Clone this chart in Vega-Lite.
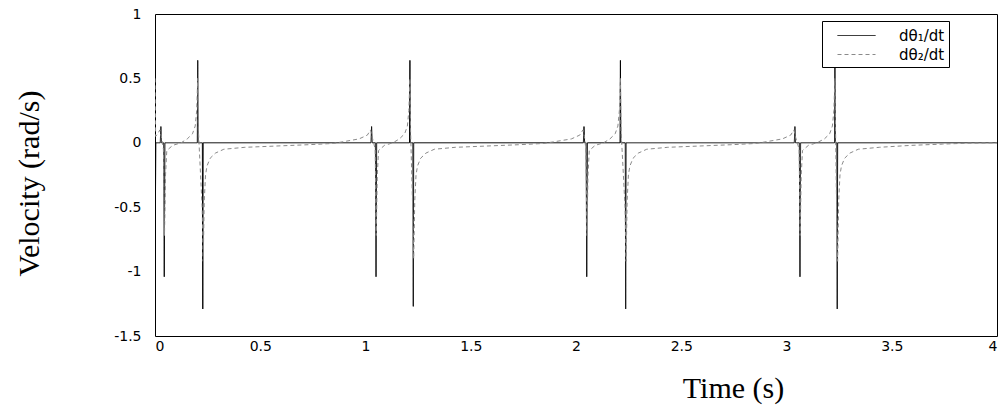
{
  "$schema": "https://vega.github.io/schema/vega-lite/v6.json",
  "width": 842,
  "height": 322,
  "padding": {"left": 155, "top": 14, "right": 6, "bottom": 72},
  "autosize": {"type": "none"},
  "background": "white",
  "config": {
    "view": {"stroke": "black", "strokeWidth": 1},
    "axis": {"grid": false, "ticks": false, "domain": false, "labelFont": "DejaVu Sans", "labelFontSize": 14, "labelColor": "black", "titleFont": "Liberation Serif", "titleFontSize": 30, "titleFontWeight": "normal", "titleColor": "black"}
  },
  "data": {"values": [
    {"t": 0.0, "v": -0.95, "s": "dθ₁/dt"},
    {"t": 0.004, "v": 0, "s": "dθ₁/dt"},
    {"t": 0.025, "v": 0, "s": "dθ₁/dt"},
    {"t": 0.028, "v": 0.126, "s": "dθ₁/dt"},
    {"t": 0.031, "v": 0, "s": "dθ₁/dt"},
    {"t": 0.041, "v": 0, "s": "dθ₁/dt"},
    {"t": 0.044, "v": -1.04, "s": "dθ₁/dt"},
    {"t": 0.047, "v": 0, "s": "dθ₁/dt"},
    {"t": 0.201, "v": 0, "s": "dθ₁/dt"},
    {"t": 0.203, "v": 0.64, "s": "dθ₁/dt"},
    {"t": 0.205, "v": 0, "s": "dθ₁/dt"},
    {"t": 0.225, "v": 0, "s": "dθ₁/dt"},
    {"t": 0.227, "v": -1.29, "s": "dθ₁/dt"},
    {"t": 0.229, "v": 0, "s": "dθ₁/dt"},
    {"t": 1.026, "v": 0, "s": "dθ₁/dt"},
    {"t": 1.029, "v": 0.126, "s": "dθ₁/dt"},
    {"t": 1.032, "v": 0, "s": "dθ₁/dt"},
    {"t": 1.047, "v": 0, "s": "dθ₁/dt"},
    {"t": 1.05, "v": -1.04, "s": "dθ₁/dt"},
    {"t": 1.053, "v": 0, "s": "dθ₁/dt"},
    {"t": 1.209, "v": 0, "s": "dθ₁/dt"},
    {"t": 1.211, "v": 0.64, "s": "dθ₁/dt"},
    {"t": 1.213, "v": 0, "s": "dθ₁/dt"},
    {"t": 1.225, "v": 0, "s": "dθ₁/dt"},
    {"t": 1.227, "v": -1.27, "s": "dθ₁/dt"},
    {"t": 1.229, "v": 0, "s": "dθ₁/dt"},
    {"t": 2.035, "v": 0, "s": "dθ₁/dt"},
    {"t": 2.038, "v": 0.126, "s": "dθ₁/dt"},
    {"t": 2.041, "v": 0, "s": "dθ₁/dt"},
    {"t": 2.048, "v": 0, "s": "dθ₁/dt"},
    {"t": 2.051, "v": -1.04, "s": "dθ₁/dt"},
    {"t": 2.054, "v": 0, "s": "dθ₁/dt"},
    {"t": 2.209, "v": 0, "s": "dθ₁/dt"},
    {"t": 2.211, "v": 0.64, "s": "dθ₁/dt"},
    {"t": 2.213, "v": 0, "s": "dθ₁/dt"},
    {"t": 2.234, "v": 0, "s": "dθ₁/dt"},
    {"t": 2.236, "v": -1.29, "s": "dθ₁/dt"},
    {"t": 2.238, "v": 0, "s": "dθ₁/dt"},
    {"t": 3.037, "v": 0, "s": "dθ₁/dt"},
    {"t": 3.04, "v": 0.126, "s": "dθ₁/dt"},
    {"t": 3.043, "v": 0, "s": "dθ₁/dt"},
    {"t": 3.061, "v": 0, "s": "dθ₁/dt"},
    {"t": 3.064, "v": -1.04, "s": "dθ₁/dt"},
    {"t": 3.067, "v": 0, "s": "dθ₁/dt"},
    {"t": 3.228, "v": 0, "s": "dθ₁/dt"},
    {"t": 3.23, "v": 0.64, "s": "dθ₁/dt"},
    {"t": 3.232, "v": 0, "s": "dθ₁/dt"},
    {"t": 3.239, "v": 0, "s": "dθ₁/dt"},
    {"t": 3.241, "v": -1.29, "s": "dθ₁/dt"},
    {"t": 3.243, "v": 0, "s": "dθ₁/dt"},
    {"t": 4.0, "v": 0, "s": "dθ₁/dt"},

    {"t": 0.0, "v": 0.5, "s": "dθ₂/dt"},
    {"t": 0.003, "v": 0.05, "s": "dθ₂/dt"},
    {"t": 0.013, "v": 0.07, "s": "dθ₂/dt"},
    {"t": 0.023, "v": 0.1, "s": "dθ₂/dt"},
    {"t": 0.03, "v": 0.05, "s": "dθ₂/dt"},
    {"t": 0.04, "v": -0.05, "s": "dθ₂/dt"},
    {"t": 0.045, "v": -0.72, "s": "dθ₂/dt"},
    {"t": 0.05, "v": -0.25, "s": "dθ₂/dt"},
    {"t": 0.056, "v": -0.06, "s": "dθ₂/dt"},
    {"t": 0.084, "v": -0.02, "s": "dθ₂/dt"},
    {"t": 0.124, "v": 0.0, "s": "dθ₂/dt"},
    {"t": 0.153, "v": 0.03, "s": "dθ₂/dt"},
    {"t": 0.178, "v": 0.07, "s": "dθ₂/dt"},
    {"t": 0.191, "v": 0.13, "s": "dθ₂/dt"},
    {"t": 0.198, "v": 0.25, "s": "dθ₂/dt"},
    {"t": 0.203, "v": 0.5, "s": "dθ₂/dt"},
    {"t": 0.206, "v": 0.1, "s": "dθ₂/dt"},
    {"t": 0.224, "v": -0.5, "s": "dθ₂/dt"},
    {"t": 0.229, "v": -0.92, "s": "dθ₂/dt"},
    {"t": 0.234, "v": -0.45, "s": "dθ₂/dt"},
    {"t": 0.24, "v": -0.25, "s": "dθ₂/dt"},
    {"t": 0.247, "v": -0.18, "s": "dθ₂/dt"},
    {"t": 0.262, "v": -0.12, "s": "dθ₂/dt"},
    {"t": 0.287, "v": -0.08, "s": "dθ₂/dt"},
    {"t": 0.327, "v": -0.05, "s": "dθ₂/dt"},
    {"t": 0.427, "v": -0.035, "s": "dθ₂/dt"},
    {"t": 0.577, "v": -0.025, "s": "dθ₂/dt"},
    {"t": 0.727, "v": -0.015, "s": "dθ₂/dt"},
    {"t": 0.847, "v": -0.005, "s": "dθ₂/dt"},
    {"t": 0.969, "v": 0.03, "s": "dθ₂/dt"},
    {"t": 1.009, "v": 0.06, "s": "dθ₂/dt"},
    {"t": 1.024, "v": 0.1, "s": "dθ₂/dt"},
    {"t": 1.031, "v": 0.05, "s": "dθ₂/dt"},
    {"t": 1.046, "v": -0.05, "s": "dθ₂/dt"},
    {"t": 1.051, "v": -0.72, "s": "dθ₂/dt"},
    {"t": 1.056, "v": -0.25, "s": "dθ₂/dt"},
    {"t": 1.062, "v": -0.06, "s": "dθ₂/dt"},
    {"t": 1.09, "v": -0.02, "s": "dθ₂/dt"},
    {"t": 1.13, "v": 0.0, "s": "dθ₂/dt"},
    {"t": 1.161, "v": 0.03, "s": "dθ₂/dt"},
    {"t": 1.186, "v": 0.07, "s": "dθ₂/dt"},
    {"t": 1.199, "v": 0.13, "s": "dθ₂/dt"},
    {"t": 1.206, "v": 0.25, "s": "dθ₂/dt"},
    {"t": 1.211, "v": 0.5, "s": "dθ₂/dt"},
    {"t": 1.214, "v": 0.1, "s": "dθ₂/dt"},
    {"t": 1.224, "v": -0.5, "s": "dθ₂/dt"},
    {"t": 1.229, "v": -0.9, "s": "dθ₂/dt"},
    {"t": 1.234, "v": -0.45, "s": "dθ₂/dt"},
    {"t": 1.24, "v": -0.25, "s": "dθ₂/dt"},
    {"t": 1.247, "v": -0.18, "s": "dθ₂/dt"},
    {"t": 1.262, "v": -0.12, "s": "dθ₂/dt"},
    {"t": 1.287, "v": -0.08, "s": "dθ₂/dt"},
    {"t": 1.327, "v": -0.05, "s": "dθ₂/dt"},
    {"t": 1.427, "v": -0.035, "s": "dθ₂/dt"},
    {"t": 1.577, "v": -0.025, "s": "dθ₂/dt"},
    {"t": 1.727, "v": -0.015, "s": "dθ₂/dt"},
    {"t": 1.847, "v": -0.005, "s": "dθ₂/dt"},
    {"t": 1.978, "v": 0.03, "s": "dθ₂/dt"},
    {"t": 2.018, "v": 0.06, "s": "dθ₂/dt"},
    {"t": 2.033, "v": 0.1, "s": "dθ₂/dt"},
    {"t": 2.04, "v": 0.05, "s": "dθ₂/dt"},
    {"t": 2.047, "v": -0.05, "s": "dθ₂/dt"},
    {"t": 2.052, "v": -0.72, "s": "dθ₂/dt"},
    {"t": 2.057, "v": -0.25, "s": "dθ₂/dt"},
    {"t": 2.063, "v": -0.06, "s": "dθ₂/dt"},
    {"t": 2.091, "v": -0.02, "s": "dθ₂/dt"},
    {"t": 2.131, "v": 0.0, "s": "dθ₂/dt"},
    {"t": 2.161, "v": 0.03, "s": "dθ₂/dt"},
    {"t": 2.186, "v": 0.07, "s": "dθ₂/dt"},
    {"t": 2.199, "v": 0.13, "s": "dθ₂/dt"},
    {"t": 2.206, "v": 0.25, "s": "dθ₂/dt"},
    {"t": 2.211, "v": 0.5, "s": "dθ₂/dt"},
    {"t": 2.214, "v": 0.1, "s": "dθ₂/dt"},
    {"t": 2.233, "v": -0.5, "s": "dθ₂/dt"},
    {"t": 2.238, "v": -0.92, "s": "dθ₂/dt"},
    {"t": 2.243, "v": -0.45, "s": "dθ₂/dt"},
    {"t": 2.249, "v": -0.25, "s": "dθ₂/dt"},
    {"t": 2.256, "v": -0.18, "s": "dθ₂/dt"},
    {"t": 2.271, "v": -0.12, "s": "dθ₂/dt"},
    {"t": 2.296, "v": -0.08, "s": "dθ₂/dt"},
    {"t": 2.336, "v": -0.05, "s": "dθ₂/dt"},
    {"t": 2.436, "v": -0.035, "s": "dθ₂/dt"},
    {"t": 2.586, "v": -0.025, "s": "dθ₂/dt"},
    {"t": 2.736, "v": -0.015, "s": "dθ₂/dt"},
    {"t": 2.856, "v": -0.005, "s": "dθ₂/dt"},
    {"t": 2.98, "v": 0.03, "s": "dθ₂/dt"},
    {"t": 3.02, "v": 0.06, "s": "dθ₂/dt"},
    {"t": 3.035, "v": 0.1, "s": "dθ₂/dt"},
    {"t": 3.042, "v": 0.05, "s": "dθ₂/dt"},
    {"t": 3.06, "v": -0.05, "s": "dθ₂/dt"},
    {"t": 3.065, "v": -0.72, "s": "dθ₂/dt"},
    {"t": 3.07, "v": -0.25, "s": "dθ₂/dt"},
    {"t": 3.076, "v": -0.06, "s": "dθ₂/dt"},
    {"t": 3.104, "v": -0.02, "s": "dθ₂/dt"},
    {"t": 3.144, "v": 0.0, "s": "dθ₂/dt"},
    {"t": 3.18, "v": 0.03, "s": "dθ₂/dt"},
    {"t": 3.205, "v": 0.07, "s": "dθ₂/dt"},
    {"t": 3.218, "v": 0.13, "s": "dθ₂/dt"},
    {"t": 3.225, "v": 0.25, "s": "dθ₂/dt"},
    {"t": 3.23, "v": 0.5, "s": "dθ₂/dt"},
    {"t": 3.233, "v": 0.1, "s": "dθ₂/dt"},
    {"t": 3.238, "v": -0.5, "s": "dθ₂/dt"},
    {"t": 3.243, "v": -0.92, "s": "dθ₂/dt"},
    {"t": 3.248, "v": -0.45, "s": "dθ₂/dt"},
    {"t": 3.254, "v": -0.25, "s": "dθ₂/dt"},
    {"t": 3.261, "v": -0.18, "s": "dθ₂/dt"},
    {"t": 3.276, "v": -0.12, "s": "dθ₂/dt"},
    {"t": 3.301, "v": -0.08, "s": "dθ₂/dt"},
    {"t": 3.341, "v": -0.05, "s": "dθ₂/dt"},
    {"t": 3.441, "v": -0.035, "s": "dθ₂/dt"},
    {"t": 3.591, "v": -0.02, "s": "dθ₂/dt"},
    {"t": 3.741, "v": -0.01, "s": "dθ₂/dt"},
    {"t": 3.861, "v": -0.003, "s": "dθ₂/dt"},
    {"t": 4.0, "v": 0.0, "s": "dθ₂/dt"}
  ]},
  "mark": {"type": "line", "strokeWidth": 1, "clip": true},
  "encoding": {
    "x": {"field": "t", "type": "quantitative", "scale": {"domain": [0, 4], "nice": false, "zero": false},
      "axis": {"values": [0, 0.5, 1, 1.5, 2, 2.5, 3, 3.5, 4], "labelExpr": "'' + datum.value", "labelPadding": 3, "title": "Time (s)", "titleX": 578, "titleY": 61, "titleBaseline": "alphabetic", "titleAlign": "center"}},
    "y": {"field": "v", "type": "quantitative", "scale": {"domain": [-1.5, 1], "nice": false, "zero": false},
      "axis": {"values": [-1.5, -1, -0.5, 0, 0.5, 1], "labelExpr": "'' + datum.value", "labelPadding": 14, "title": "Velocity (rad/s)", "titleX": -117, "titleY": 169, "titleAngle": -90, "titleBaseline": "alphabetic", "titleAlign": "center"}},
    "color": {"field": "s", "type": "nominal", "scale": {"domain": ["dθ₁/dt", "dθ₂/dt"], "range": ["#000000", "#8a8a8a"]},
      "legend": {"title": null, "orient": "none", "legendX": 667, "legendY": 7, "strokeColor": "black", "fillColor": "white", "padding": 4, "symbolType": "M-1.9,0H1.9", "symbolSize": 400, "symbolStrokeWidth": 1, "labelFont": "DejaVu Sans", "labelFontSize": 15, "labelColor": "black", "labelOffset": 32, "rowPadding": -1, "symbolOffset": 20}},
    "strokeDash": {"field": "s", "type": "nominal", "scale": {"domain": ["dθ₁/dt", "dθ₂/dt"], "range": [[1, 0], [4, 3]]}, "legend": null}
  }
}
